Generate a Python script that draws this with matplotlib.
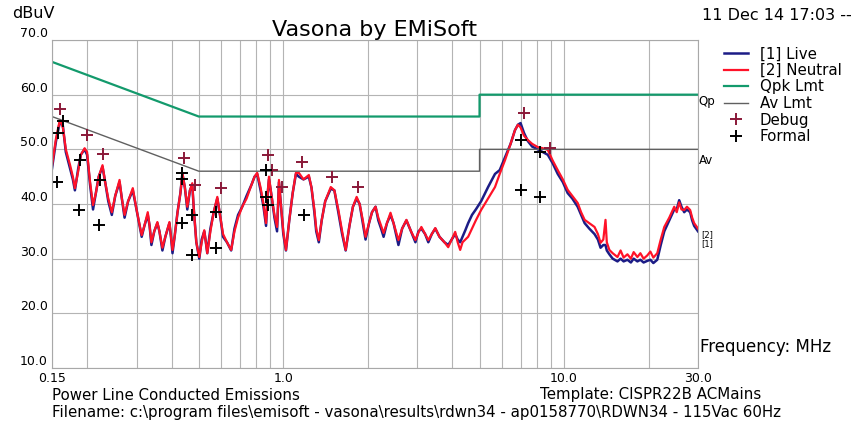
import matplotlib
matplotlib.use("Agg")
import matplotlib.pyplot as plt
from matplotlib.ticker import LogLocator, NullFormatter, FixedLocator

plt.rcParams['font.family'] = ['DejaVu Sans']

# frequency points (MHz)
freq = [0.150, 0.155, 0.160, 0.164, 0.168, 0.174, 0.178, 0.181, 0.186, 0.190,
        0.196, 0.200, 0.205, 0.210, 0.215, 0.220, 0.227, 0.232, 0.238, 0.245,
        0.252, 0.261, 0.266, 0.272, 0.280, 0.291, 0.300, 0.313, 0.320, 0.329,
        0.334, 0.339, 0.347, 0.356, 0.362, 0.371, 0.380, 0.393, 0.398, 0.403,
        0.410, 0.420, 0.430, 0.437, 0.446, 0.455, 0.465, 0.474, 0.480, 0.490,
        0.502, 0.512, 0.523, 0.530, 0.536, 0.550, 0.565, 0.582, 0.595, 0.610,
        0.630, 0.652, 0.670, 0.690, 0.714, 0.740, 0.770, 0.790, 0.807, 0.830,
        0.850, 0.868, 0.880, 0.889, 0.905, 0.930, 0.950, 0.958, 0.965, 0.980,
        1.000, 1.022, 1.050, 1.080, 1.109, 1.136, 1.180, 1.233, 1.260, 1.290,
        1.310, 1.338, 1.370, 1.410, 1.476, 1.520, 1.570, 1.620, 1.668, 1.720,
        1.770, 1.825, 1.870, 1.920, 1.963, 2.020, 2.070, 2.131, 2.180, 2.230,
        2.276, 2.340, 2.409, 2.470, 2.520, 2.571, 2.650, 2.745, 2.850, 2.955,
        3.030, 3.103, 3.200, 3.285, 3.380, 3.478, 3.600, 3.750, 3.867, 3.980,
        4.095, 4.180, 4.266, 4.350, 4.450, 4.554, 4.700, 4.850, 5.065, 5.363,
        5.676, 5.900, 6.160, 6.450, 6.685, 6.851, 7.000, 7.200, 7.433, 7.700,
        8.066, 8.400, 8.750, 9.100, 9.495, 9.900, 10.30, 10.70, 11.18, 11.50,
        11.84, 12.30, 12.84, 13.20, 13.49, 13.80, 14.05, 14.20, 14.50, 14.90,
        15.50, 15.90, 16.30, 16.82, 17.30, 17.70, 18.25, 18.70, 19.20, 19.80,
        20.30, 20.80, 21.48, 22.10, 22.75, 23.70, 24.69, 25.20, 25.71, 26.20,
        26.79, 27.40, 28.13, 28.60, 29.07, 30.00]

neutral = [47.0, 52.0, 55.4, 54.0, 50.0, 47.1, 45.0, 42.9, 46.0, 49.0,
           50.2, 49.5, 44.0, 39.8, 42.0, 45.0, 47.1, 44.0, 41.0, 38.5,
           41.5, 44.4, 41.0, 38.0, 40.5, 42.9, 39.0, 34.3, 36.0, 38.5,
           36.0, 33.0, 35.0, 36.7, 35.0, 32.0, 34.0, 36.7, 34.0, 31.6,
           34.0, 38.5, 42.0, 45.7, 43.0, 39.5, 42.5, 43.8, 39.0, 33.0,
           30.3, 33.0, 35.2, 33.0, 31.0, 35.0, 38.5, 41.3, 38.0, 34.5,
           33.0, 31.6, 35.0, 37.5, 39.5, 41.0, 43.5, 45.0, 45.7, 43.0,
           40.0, 36.5, 42.0, 45.0, 42.0, 38.0, 35.8, 40.0, 44.4, 40.0,
           35.0, 31.6, 37.0, 42.0, 45.7, 45.7, 44.5, 45.3, 43.0, 39.0,
           35.5, 33.4, 37.0, 40.5, 43.1, 42.5, 39.0, 35.0, 31.6, 36.0,
           39.5, 41.3, 40.0, 37.0, 34.0, 36.5, 38.5, 39.5, 37.5, 36.0,
           34.7, 36.5, 38.4, 36.5, 35.0, 33.4, 35.5, 37.1, 35.0, 33.4,
           34.8, 35.8, 34.5, 33.4, 34.5, 35.6, 34.0, 33.0, 32.1, 33.5,
           34.9, 33.0, 31.6, 33.0, 33.5, 34.0, 35.5, 37.0, 38.9, 41.0,
           43.1, 45.5, 48.0, 51.0, 53.5, 54.5, 54.0, 52.5, 51.7, 51.0,
           50.4, 50.2, 49.9, 48.0, 46.2, 44.5, 42.6, 41.5, 40.2, 38.5,
           37.1, 36.5, 35.8, 34.5, 32.9, 33.5, 37.1, 33.0, 31.6, 31.0,
           30.3, 31.5, 30.2, 30.8, 30.0, 31.2, 30.3, 31.0, 30.0, 30.6,
           31.3, 30.2, 31.0, 33.5, 35.8, 37.5, 39.5, 38.5, 40.3, 39.0,
           38.9, 39.5, 38.9, 37.5, 36.5, 35.5]

live = [46.5, 51.5, 55.0, 54.3, 49.5, 46.5, 44.5, 42.5, 46.5, 49.0,
        50.0, 49.0, 43.5, 39.0, 42.0, 45.0, 46.8, 44.0, 40.5, 38.0,
        41.5, 44.0, 41.0, 37.5, 40.5, 42.5, 39.0, 34.0, 36.0, 38.0,
        36.0, 32.5, 35.0, 36.5, 35.0, 31.5, 34.0, 36.5, 34.0, 31.0,
        34.0, 38.5, 42.0, 45.5, 43.0, 39.0, 42.5, 43.5, 39.0, 33.0,
        30.0, 33.5, 35.0, 33.0, 31.0, 35.5, 38.5, 41.0, 38.0, 34.0,
        33.0, 31.5, 35.5, 38.0, 39.5, 41.5, 43.5, 45.0, 45.5, 42.5,
        39.5, 36.0, 42.0, 44.5, 42.0, 37.5, 35.0, 40.0, 44.0, 40.0,
        34.5, 31.5, 37.0, 42.0, 45.5, 45.0, 44.5, 45.0, 43.0, 38.5,
        35.0, 33.0, 37.0, 40.5, 42.8, 42.5, 38.5, 34.5, 31.5, 36.0,
        39.5, 41.0, 40.0, 36.5, 33.5, 36.5, 38.5, 39.5, 37.0, 35.5,
        34.0, 36.5, 38.0, 36.5, 34.5, 32.5, 35.5, 37.0, 35.0, 33.0,
        35.0, 35.5, 34.5, 33.0, 34.5, 35.5, 34.0, 33.0, 32.5, 33.5,
        34.5, 33.5, 33.0, 34.0, 35.2, 36.5, 38.0, 39.0, 40.5, 43.1,
        45.5, 46.2, 48.5, 51.0, 53.5, 54.5, 54.8, 53.0, 51.5, 50.5,
        50.0, 49.5, 49.0, 47.5, 45.5, 44.0, 42.0, 41.0, 39.5, 38.0,
        36.5, 35.5, 34.5, 33.5, 32.0, 32.5, 32.5, 31.5, 30.8, 30.0,
        29.5, 30.0, 29.5, 29.8, 29.3, 30.0, 29.5, 29.8, 29.3, 29.6,
        29.8, 29.2, 29.8, 32.5, 35.0, 37.0, 39.0, 39.0, 40.7, 39.5,
        38.5, 39.0, 38.5, 37.0, 36.0, 35.0]

# CISPR 22 class B limits
qp_freq = [0.15, 0.5, 5.0, 5.0, 30.0]
qp_lvl = [66.0, 56.0, 56.0, 60.0, 60.0]
av_freq = [0.15, 0.5, 5.0, 5.0, 30.0]
av_lvl = [56.0, 46.0, 46.0, 50.0, 50.0]

# measured points
debug_f = [0.160, 0.200, 0.227, 0.444, 0.483, 0.601, 0.882, 0.912, 0.989,
           1.165, 1.488, 1.840, 7.22, 8.89]
debug_v = [57.4, 52.6, 49.2, 48.4, 43.5, 42.9, 49.0, 46.2, 43.1,
           47.6, 45.0, 43.1, 56.6, 50.2]
formal_f = [0.164, 0.158, 0.156, 0.189, 0.187, 0.222, 0.220, 0.437, 0.437,
            0.437, 0.474, 0.474, 0.577, 0.577, 0.868, 0.868, 0.882, 1.184,
            7.02, 8.20, 7.02, 8.20]
formal_v = [55.2, 53.0, 44.0, 48.0, 38.9, 44.4, 36.2, 45.7, 44.6,
            36.5, 38.0, 30.7, 38.5, 32.0, 46.2, 41.3, 39.8, 38.0,
            51.7, 49.5, 42.6, 41.3]

W, H = 857, 428
fig = plt.figure(figsize=(W / 100, H / 100), dpi=100)
ax = fig.add_axes([52 / W, 1 - 368 / H, (698 - 52) / W, (368 - 40) / H])

ax.plot(freq, live, color='#1c1c86', lw=1.8, label='[1] Live')
ax.plot(freq, neutral, color='#ff1228', lw=1.6, label='[2] Neutral')
ax.plot(qp_freq, qp_lvl, color='#139a6c', lw=1.6, label='Qpk Lmt')
ax.plot(av_freq, av_lvl, color='#606060', lw=1.0, label='Av Lmt')
ax.plot(debug_f, debug_v, '+', color='#8a1838', ms=8, mew=1.4, label='Debug')
ax.plot(formal_f, formal_v, '+', color='black', ms=8, mew=1.4, label='Formal')

ax.set_xscale('log')
ax.set_xlim(0.15, 30)
ax.set_ylim(10, 70)
ax.xaxis.set_major_locator(FixedLocator([0.15, 1.0, 10.0, 30.0]))
ax.set_xticklabels(['0.15', '1.0', '10.0', '30.0'])
ax.xaxis.set_minor_locator(LogLocator(base=10, subs=range(2, 10)))
ax.xaxis.set_minor_formatter(NullFormatter())
ax.set_yticks([10, 20, 30, 40, 50, 60, 70])
ax.set_yticklabels(['10.0', '20.0', '30.0', '40.0', '50.0', '60.0', '70.0'])
plt.setp(ax.get_yticklabels(), va='bottom')
ax.tick_params(which='both', length=0, labelsize=9, pad=3)
ax.grid(which='both', color='#b4b4b4', lw=0.8)
ax.set_axisbelow(True)
for s in ax.spines.values():
    s.set_color('#a8a8a8')

ax.set_title('Vasona by EMiSoft', fontsize=16, pad=2)

fig.legend(loc='upper left', bbox_to_anchor=(716 / W, 1 - 39 / H),
           frameon=False, fontsize=10.8, handlelength=1.6, handletextpad=0.8,
           labelspacing=0.1, borderpad=0)

def ftext(x, y, s, **kw):
    fig.text(x / W, 1 - y / H, s, va='center', **kw)

ftext(12, 13, 'dBuV', fontsize=11.5)
ftext(702, 15, '11 Dec 14 17:03 --', fontsize=11.5)
ftext(698, 101, 'Qp', fontsize=8.5)
ftext(699, 160, 'Av', fontsize=8.5)
ftext(701, 235, '[2]', fontsize=6)
ftext(701, 244, '[1]', fontsize=6)
ftext(700, 347, 'Frequency: MHz', fontsize=12)
ftext(52, 396, 'Power Line Conducted Emissions', fontsize=10.8)
ftext(540, 395, 'Template: CISPR22B ACMains', fontsize=10.8)
ftext(52, 413, 'Filename: c:\\program files\\emisoft - vasona\\results\\rdwn34 - '
      'ap0158770\\RDWN34 - 115Vac 60Hz', fontsize=10.8)

fig.savefig('out.png', dpi=100)
